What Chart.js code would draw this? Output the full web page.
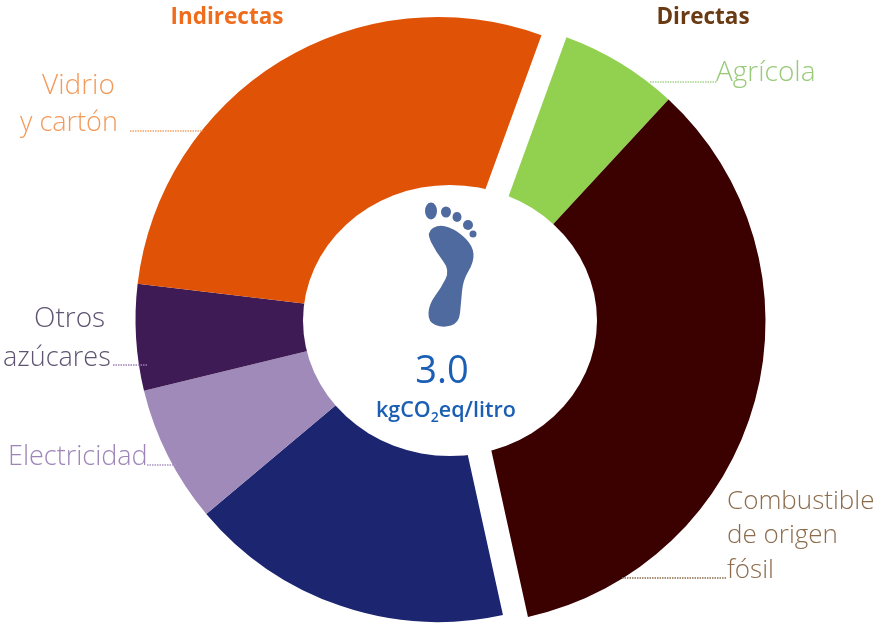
<!DOCTYPE html>
<html>
<head>
<meta charset="utf-8">
<style>
html, body { margin: 0; padding: 0; background: #fff; }
#wrap { width: 880px; height: 623px; }
</style>
<script src="https://cdn.jsdelivr.net/npm/chart.js@4"></script>
</head>
<body>
<div id="wrap"><canvas id="huella" width="880" height="623"></canvas></div>
<script>
// kgCO2eq por litro (suma 3.0)
var categories = ['Agrícola', 'Combustible de origen fósil', '', 'Electricidad', 'Otros azúcares', 'Vidrio y cartón'];
var values = [0.19, 1.04, 0.52, 0.22, 0.17, 0.86];
var sliceColors = ['#92D050', '#3B0000', '#1B2570', '#A08ABA', '#3F1B55', '#E05206'];
var groupTitles = ['Indirectas', 'Directas'];
var totalValue = '3.0';

var FONT = '"Open Sans", sans-serif';

// the two groups are pulled apart, so slices get shifted after the layout
var directCount = 2;
var directShift = { x: 23, y: 2 };
var indirectShift = { x: -2, y: 0 };

var shiftGroups = {
    id: 'shiftGroups',
    afterDatasetsUpdate: function(chart) {
        chart.getDatasetMeta(0).data.forEach(function(arc, i) {
            var s = i < directCount ? directShift : indirectShift;
            arc.x += s.x;
            arc.y += s.y;
        });
    }
};

function drawFoot(ctx) {
    var toes = [[431, 211, 6, 8.5], [446, 212, 5, 5.5], [457, 217, 4.5, 5], [468, 225, 5, 5], [473, 234, 3.5, 3.5]];
    var sole = [[426, 232], [440, 224], [458, 231], [473, 246], [474, 262], [463, 280], [461, 303], [459, 323],
                [443, 328], [428, 322], [429, 304], [441, 288], [450, 270], [436, 252]];
    ctx.fillStyle = '#4F6A9E';
    toes.forEach(function(t) {
        ctx.beginPath();
        ctx.ellipse(t[0], t[1], t[2], t[3], 0, 0, Math.PI * 2);
        ctx.fill();
    });
    ctx.beginPath();
    var n = sole.length;
    ctx.moveTo((sole[n - 1][0] + sole[0][0]) / 2, (sole[n - 1][1] + sole[0][1]) / 2);
    sole.forEach(function(p, i) {
        var q = sole[(i + 1) % n];
        ctx.quadraticCurveTo(p[0], p[1], (p[0] + q[0]) / 2, (p[1] + q[1]) / 2);
    });
    ctx.fill();
}

function putText(ctx, txt, x, y, font, color, align) {
    ctx.font = font;
    ctx.fillStyle = color;
    ctx.textAlign = align || 'left';
    ctx.textBaseline = 'middle';
    ctx.fillText(txt, x, y);
}

function leader(ctx, x1, x2, y, color) {
    ctx.beginPath();
    ctx.setLineDash([1.5, 1]);
    ctx.lineWidth = 1.5;
    ctx.strokeStyle = color;
    ctx.moveTo(x1, y);
    ctx.lineTo(x2, y);
    ctx.stroke();
    ctx.setLineDash([]);
}

var decorations = {
    id: 'decorations',
    afterDatasetsDraw: function(chart) {
        var ctx = chart.ctx;
        ctx.save();

        // white middle, slightly wider than tall
        ctx.fillStyle = '#fff';
        ctx.beginPath();
        ctx.ellipse(450, 320.5, 147, 135.5, 0, 0, Math.PI * 2);
        ctx.fill();

        drawFoot(ctx);

        // group titles
        putText(ctx, groupTitles[0], 227, 18, 'bold 22.5px ' + FONT, '#EE6C1C', 'center');
        putText(ctx, groupTitles[1], 703, 18, 'bold 22.5px ' + FONT, '#6A3A12', 'center');

        // slice labels
        var light = '300 27px ' + FONT;
        putText(ctx, 'Vidrio', 42, 86, '300 28px ' + FONT, '#F39A5A');
        putText(ctx, 'y cartón', 20, 123, light, '#F39A5A');
        putText(ctx, 'Otros', 34, 319, '300 28px ' + FONT, '#5F5472');
        putText(ctx, 'azúcares', 3, 358, light, '#5F5472');
        putText(ctx, 'Electricidad', 8, 457, light, '#9D85B8');
        putText(ctx, 'Agrícola', 716, 73, '300 28px ' + FONT, '#97CB78');
        putText(ctx, 'Combustible', 727, 502, '300 26px ' + FONT, '#8C6C4C');
        putText(ctx, 'de origen', 727, 536, '300 26px ' + FONT, '#8C6C4C');
        putText(ctx, 'fósil', 727, 571, '300 26px ' + FONT, '#8C6C4C');

        leader(ctx, 130, 203, 131, '#F2A36C');
        leader(ctx, 113, 148, 365, '#9B7FB8');
        leader(ctx, 147, 176, 465, '#A893C2');
        leader(ctx, 650, 717, 82, '#A6D58A');
        leader(ctx, 622, 726, 578, '#8C6C4C');

        // total
        putText(ctx, totalValue, 442, 372, '38px ' + FONT, '#1A5FB4', 'center');
        var big = '600 21.5px ' + FONT, small = '600 14px ' + FONT;
        var x = 376;
        putText(ctx, 'kgCO', x, 411, big, '#1A5FB4');
        x += ctx.measureText('kgCO').width;
        putText(ctx, '2', x, 418, small, '#1A5FB4');
        x += ctx.measureText('2').width;
        putText(ctx, 'eq/litro', x, 411, big, '#1A5FB4');

        ctx.restore();
    }
};

new Chart(document.getElementById('huella').getContext('2d'), {
    type: 'doughnut',
    data: {
        labels: categories,
        datasets: [{
            data: values,
            backgroundColor: sliceColors,
            borderWidth: 0
        }]
    },
    options: {
        responsive: false,
        animation: false,
        events: [],
        rotation: 20,
        cutout: '30%',
        layout: { padding: { top: 17, bottom: 1 } },
        plugins: {
            legend: { display: false },
            tooltip: { enabled: false }
        }
    },
    plugins: [shiftGroups, decorations]
});
</script>
</body>
</html>
